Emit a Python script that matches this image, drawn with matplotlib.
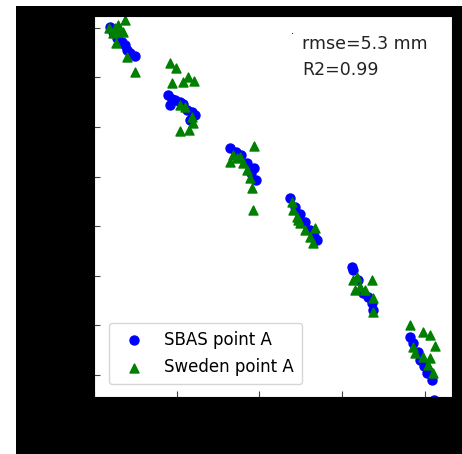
import matplotlib
matplotlib.use("Agg")
import matplotlib.pyplot as plt
from matplotlib.patches import Rectangle

# SBAS point A (x: days, y: displacement mm)
sbas_x = [19.3, 23.3, 29.0, 27.4, 33.5, 37.5, 39.5, 43.5, 49.6,
          89.8, 91.9, 94.3, 97.9, 104.0, 107.6, 112.1, 118.5, 116.1, 122.1,
          164.4, 171.7, 177.7, 185.0, 190.0, 193.5, 195.9,
          237.0, 243.0, 249.1, 255.1, 261.2, 266.0, 270.0,
          311.6, 313.5, 319.2, 325.6, 331.3, 335.8, 337.7,
          382.1, 386.1, 391.8, 394.2, 399.0, 402.3, 408.3, 411.1]
sbas_y = [0.4, -1.6, -2.1, -4.3, -5.6, -7.0, -9.0, -10.3, -11.4,
          -27.1, -31.2, -28.7, -29.2, -29.8, -30.8, -33.2, -34.0, -37.2, -35.2,
          -48.6, -50.1, -51.3, -54.6, -58.5, -56.6, -61.4,
          -68.8, -72.3, -75.1, -78.3, -81.6, -84.0, -85.6,
          -96.4, -97.7, -101.7, -107.1, -108.6, -111.1, -113.8,
          -124.6, -127.3, -130.8, -134.0, -136.5, -139.3, -142.0, -150.1]

# Sweden point A
swe_x = [18.5, 25.4, 29.4, 31.4, 35.4, 37.5, 27.4, 23.3, 26.6, 39.5, 49.6,
         91.9, 99.2, 94.0, 108.0, 114.0, 120.9, 104.0, 110.0, 118.1, 120.1, 104.0, 115.2,
         193.5, 168.4, 176.5, 180.5, 184.6, 188.6, 190.7, 164.4, 192.6, 172.9,
         239.1, 241.0, 245.1, 249.1, 255.1, 261.2, 267.2, 265.2, 246.7,
         313.5, 317.7, 321.6, 327.7, 335.8, 337.7, 337.7, 315.6,
         382.1, 398.2, 406.3, 412.3, 386.1, 388.2, 398.2, 404.2, 410.3, 406.3]
swe_y = [-0.2, -0.2, 1.1, -0.9, -1.6, 3.3, -1.6, -2.3, -6.3, -11.7, -17.7,
         -14.4, -16.4, -22.2, -21.8, -19.8, -21.4, -31.2, -31.9, -35.9, -38.5, -41.5, -41.2,
         -47.7, -51.3, -52.0, -54.7, -57.3, -60.7, -64.8, -54.0, -73.5, -52.5,
         -70.2, -73.5, -76.2, -78.9, -81.6, -84.3, -80.9, -86.9, -77.5,
         -101.7, -100.4, -104.4, -105.8, -101.7, -109.1, -114.5, -105.8,
         -119.9, -122.6, -123.9, -128.3, -128.6, -131.3, -132.7, -136.0, -139.3, -133.2]

xticks = [0, 100, 200, 300, 400]
yticks = [0, -20, -40, -60, -80, -100, -120, -140]
rmse = 5.3
r2 = 0.99

fig = plt.figure(figsize=(4.62, 4.54), dpi=100, facecolor='white')
fig.patches.append(Rectangle((16 / 462, 0), 1, (454 - 6) / 454, transform=fig.transFigure,
                             facecolor='black', edgecolor='none', zorder=-10))

ax = fig.add_axes([0.2035, 0.1249, 0.7742, 0.8392])
ax.set_facecolor('white')
ax.scatter(sbas_x, sbas_y, s=42, c='blue', marker='o', label='SBAS point A')
ax.scatter(swe_x, swe_y, s=42, c='green', marker='^', label='Sweden point A')

ax.set_xlim(0, 432.5)
ax.set_ylim(-149.0, 4.6)
ax.set_xticks(xticks)
ax.set_yticks(yticks)
ax.tick_params(direction='in', length=4.5, color='#444444', labelcolor='black')

ax.text(0.556, 0.953, '·', transform=ax.transAxes, fontsize=7, ha='center', va='center')
ax.text(0.581, 0.952, 'rmse=%.1f mm\nR2=%.2f' % (rmse, r2), transform=ax.transAxes,
        fontsize=12.5, va='top', ha='left', linespacing=1.6, color='#222222')

ax.legend(loc='lower left', bbox_to_anchor=(0.042, 0.034), borderaxespad=0,
          fontsize=12, framealpha=0.8, labelspacing=0.55, borderpad=0.5)

fig.savefig('out.png', dpi=100, facecolor=fig.get_facecolor())
